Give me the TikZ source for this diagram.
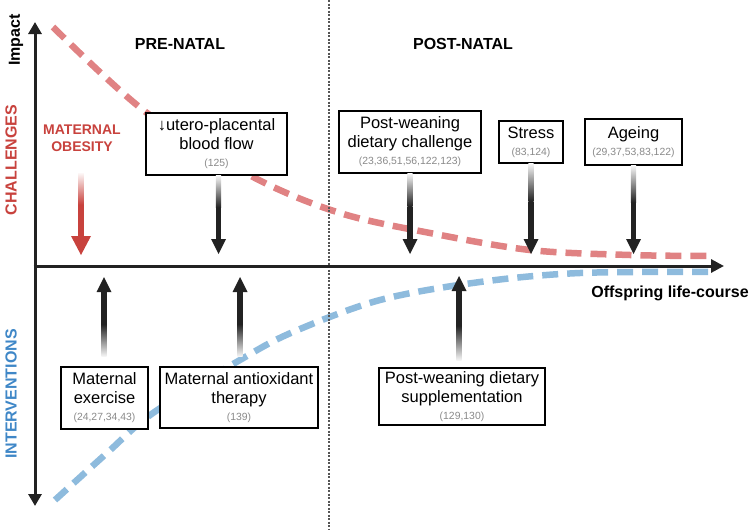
\documentclass[tikz,border=0pt]{standalone}
\usepackage{fontspec}
\setmainfont{Liberation Sans}
\usetikzlibrary{calc,arrows.meta}
\definecolor{redtxt}{HTML}{C8423D}
\definecolor{bluetxt}{HTML}{3F87C7}
\definecolor{redcurve}{HTML}{E08283}
\definecolor{bluecurve}{HTML}{8EBBDD}
\definecolor{axiscol}{HTML}{222222}
\definecolor{citegray}{HTML}{8A8A8A}
\definecolor{divcol}{HTML}{555555}
\newcommand{\refs}[1]{{\fontsize{10.4}{12}\selectfont\color{citegray}#1}}
% #1 start, #2 tip, #3 colour, #4 shaft half width, #5 head half width, #6 head length, #7 up/down
\newcommand{\fadearrow}[7]{%
  \coordinate (fa-hb) at ($(#2)!#6pt!(#1)$);
  \coordinate (fa-m) at ($(#1)!0.5!(fa-hb)$);
  \shade[fa #7=#3] ($(#1)+(-#4,0)$) rectangle ($(fa-m)+(#4,0)$);
  \fill[#3] ($(fa-m)+(-#4,0.5)$) rectangle ($(fa-hb)+(#4,0)$);
  \fill[#3] ($(fa-hb)+(-#5,0)$) -- ($(fa-hb)+(#5,0)$) -- (#2) -- cycle;
}
\tikzset{
  fa down/.style={top color=#1!4, bottom color=#1},
  fa up/.style={bottom color=#1!4, top color=#1},
  box/.style={draw=black, line width=1.3pt, fill=white, align=center, inner sep=2pt,
    font=\fontsize{16.5}{18.8}\selectfont},
  heading/.style={font=\bfseries\fontsize{16}{16}\selectfont},
  curve/.style={line width=6.5pt, dash pattern=on 16pt off 9pt},
  axis/.style={axiscol, line width=3pt},
}
\begin{document}
\begin{tikzpicture}[x=1pt,y=-1pt]
\useasboundingbox (0,0) rectangle (750,530);

% curves
\draw[curve, redcurve] plot[smooth, tension=0.55] coordinates
  {(53,27) (147,113) (255,178) (340,213) (430,233) (530,250) (630,255) (710,256)};
\draw[curve, bluecurve] plot[smooth, tension=0.55] coordinates
  {(55,500) (107,453) (153,413) (240,360) (293,332) (380,300) (480,282) (580,273) (712,272)};

% divider
\coordinate (divtop) at (329,0);
\coordinate (divbot) at (329,530);
\draw[divcol, line width=1.5pt, dash pattern=on 2pt off 1.5pt] (divtop) -- (divbot);

% axes
\coordinate (ytop) at (35,22);
\coordinate (ybot) at (35,506);
\coordinate (orig) at (33.5,266);
\coordinate (xend) at (724,266);
\draw[axis, {Triangle[length=12pt,width=13pt]}-{Triangle[length=12pt,width=13pt]}] (ybot) -- (ytop);
\draw[axis, -{Triangle[length=13pt,width=13pt]}] (orig) -- (xend);

% labels
\node[heading, rotate=90] (impact) at (16,40) {Impact};
\node[heading, rotate=90, text=redtxt] (chal) at (11,160) {CHALLENGES};
\node[heading, rotate=90, text=bluetxt] (interv) at (11,394) {INTERVENTIONS};
\node[heading] (pre) at (180,44) {PRE-NATAL};
\node[heading] (post) at (463,44) {POST-NATAL};
\node[heading] (olc) at (670,293) {Offspring life-course};
\node[font=\bfseries\fontsize{14}{17}\selectfont, text=redtxt, align=center] (mo) at (82,138) {MATERNAL\\OBESITY};

% boxes
\node[box, minimum width=141pt, minimum height=62pt] (utero) at (216.5,144)
  {↓utero-placental\\blood flow\\[-1.5pt]\refs{(125)}};
\node[box, minimum width=142pt, minimum height=62pt] (pwc) at (410,142)
  {Post-weaning\\dietary challenge\\[-1.5pt]\refs{(23,36,51,56,122,123)}};
\node[box, minimum width=64pt, minimum height=42pt] (stress) at (531,142)
  {Stress\\[-1.5pt]\refs{(83,124)}};
\node[box, minimum width=97pt, minimum height=46pt] (ageing) at (633.5,142)
  {Ageing\\[-1.5pt]\refs{(29,37,53,83,122)}};
\node[box, minimum width=87pt, minimum height=62pt] (mex) at (104.5,398)
  {Maternal\\exercise\\[-1.5pt]\refs{(24,27,34,43)}};
\node[box, minimum width=158pt, minimum height=61pt] (anti) at (239,397.5)
  {Maternal antioxidant\\therapy\\[-1.5pt]\refs{(139)}};
\node[box, minimum width=166pt, minimum height=57pt] (pws) at (462,396.5)
  {Post-weaning dietary\\supplementation\\[-1.5pt]\refs{(129,130)}};

% arrow ends
\coordinate (mo-s) at (81,173);
\coordinate (mo-t) at (81,255);
\coordinate (utero-t) at (218.5,254);
\coordinate (pwc-t) at (410,254);
\coordinate (stress-t) at (531,254);
\coordinate (ageing-t) at (633.5,254);
\coordinate (mex-s) at ($(mex.north)+(-0.5,-10)$);
\coordinate (mex-t) at (104,277);
\coordinate (anti-s) at ($(anti.north)+(1,-10)$);
\coordinate (anti-t) at (240,277);
\coordinate (pws-s) at ($(pws.north)+(-3,-7)$);
\coordinate (pws-t) at (459,276);
\coordinate (utero-s) at (utero.south -| utero-t);

% arrows
\fadearrow{mo-s}{mo-t}{redtxt}{2.8}{10}{19}{down}
\fadearrow{utero-s}{utero-t}{axiscol}{2.6}{7.5}{15}{down}
\fadearrow{pwc.south}{pwc-t}{axiscol}{2.6}{7.5}{15}{down}
\fadearrow{stress.south}{stress-t}{axiscol}{2.6}{7.5}{15}{down}
\fadearrow{ageing.south}{ageing-t}{axiscol}{2.6}{7.5}{15}{down}
\fadearrow{mex-s}{mex-t}{axiscol}{2.6}{7.5}{15}{up}
\fadearrow{anti-s}{anti-t}{axiscol}{2.6}{7.5}{15}{up}
\fadearrow{pws-s}{pws-t}{axiscol}{2.6}{7.5}{15}{up}
\end{tikzpicture}
\end{document}
